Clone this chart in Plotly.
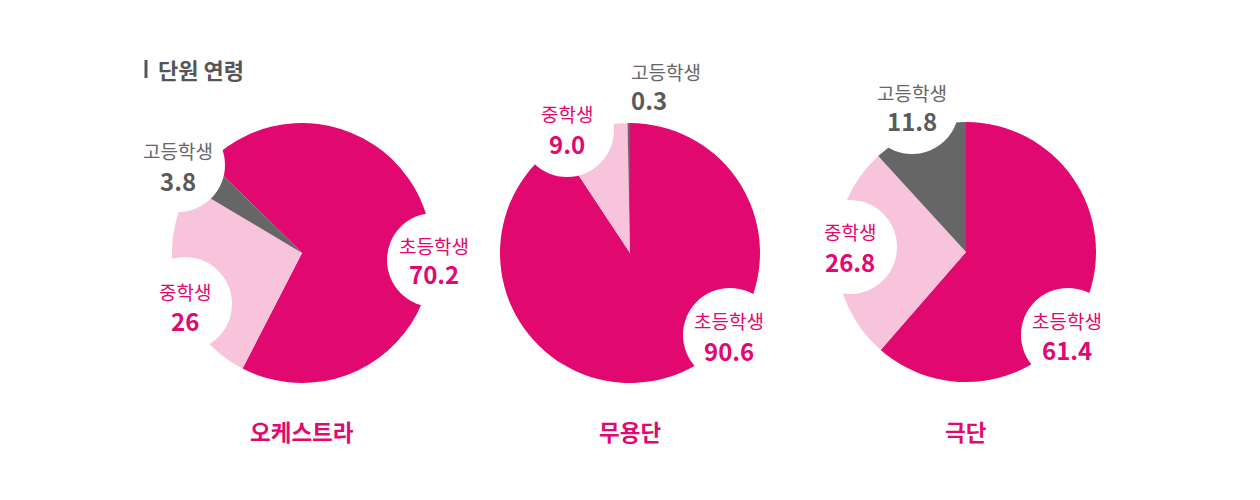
import plotly.graph_objects as go

# ---------------- data ----------------
categories = ["초등학생", "중학생", "고등학생"]
groups = ["오케스트라", "무용단", "극단"]
orchestra_values = [70.2, 26, 3.8]
dance_values = [90.6, 9.0, 0.3]
theater_values = [61.4, 26.8, 11.8]
value_labels = [["70.2", "26", "3.8"], ["90.6", "9.0", "0.3"], ["61.4", "26.8", "11.8"]]
chart_title = "단원 연령"

# ---------------- layout / style ----------------
W, H = 1260, 500
OX, OY = -8, -8   # page offset compensation
FONT = "Noto Sans CJK KR"
DARK = "#E1086F"
LIGHT = "#F7C4DC"
GRAY = "#666666"
slice_colors = [DARK, LIGHT, GRAY]
label_colors = [DARK, DARK, "#666666"]
value_colors = [DARK, DARK, "#5a5a5a"]

pie_centers = [(302, 253), (630, 253), (966, 252)]
pie_radius = 130
rotations = [-45.5, 0, 0]
# label positions (pixel): (x, y_label, y_value, circle_cx, circle_cy, xanchor)
label_pos = [
    [(434, 245, 272, 434, 260, "center"), (185, 291, 319, 185, 304, "center"), (178, 150, 179, 178, 165, "center")],
    [(729, 320, 349, 730, 335, "center"), (567, 114, 142, 567, 130, "center"), (629, 71, 99, None, None, "left")],
    [(1067, 320, 348, 1068, 335, "center"), (850, 232, 260, 850, 247, "center"), (912, 92, 120, 912, 107, "center")],
]
circle_r = 47

def px(x):
    return (x + OX) / W

def py(y):
    return 1 - (y + OY) / H

fig = go.Figure()
all_values = [orchestra_values, dance_values, theater_values]
for i, vals in enumerate(all_values):
    cx, cy = pie_centers[i]
    fig.add_trace(go.Pie(
        labels=categories,
        values=vals,
        sort=False,
        direction="clockwise",
        rotation=rotations[i],
        marker=dict(colors=slice_colors, line=dict(width=0)),
        textinfo="none",
        hoverinfo="label+value",
        showlegend=False,
        domain=dict(x=[px(cx - pie_radius), px(cx + pie_radius)],
                    y=[py(cy + pie_radius), py(cy - pie_radius)]),
    ))

shapes = []
annotations = []
for i in range(3):
    for j in range(3):
        x, yl, yv, ccx, ccy, xa = label_pos[i][j]
        if ccx is not None:
            shapes.append(dict(type="circle", xref="paper", yref="paper",
                               x0=px(ccx - circle_r), x1=px(ccx + circle_r),
                               y0=py(ccy + circle_r), y1=py(ccy - circle_r),
                               fillcolor="white", line=dict(width=0), layer="above"))
        annotations.append(dict(x=px(x), y=py(yl), xref="paper", yref="paper",
                                text=categories[j], showarrow=False, xanchor=xa, yanchor="middle",
                                font=dict(family=FONT, size=19, color=label_colors[j])))
        annotations.append(dict(x=px(x), y=py(yv + 1), xref="paper", yref="paper",
                                text="<b>" + value_labels[i][j] + "</b>", showarrow=False,
                                xanchor=xa, yanchor="middle",
                                font=dict(family=FONT, size=24, color=value_colors[j])))
    cx, cy = pie_centers[i]
    annotations.append(dict(x=px(cx), y=py(431), xref="paper", yref="paper",
                            text="<b>" + groups[i] + "</b>", showarrow=False,
                            xanchor="center", yanchor="middle",
                            font=dict(family=FONT, size=22.5, color=DARK)))

# title with bar
shapes.append(dict(type="line", xref="paper", yref="paper",
                   x0=px(146), x1=px(146), y0=py(78), y1=py(60),
                   line=dict(color="#555555", width=3)))
annotations.append(dict(x=px(156), y=py(69), xref="paper", yref="paper",
                        text="<b>" + chart_title + "</b>", showarrow=False,
                        xanchor="left", yanchor="middle",
                        font=dict(family=FONT, size=22, color="#555555")))

fig.update_layout(
    width=W, height=H, autosize=False,
    margin=dict(l=0, r=0, t=0, b=0),
    paper_bgcolor="white", plot_bgcolor="white",
    shapes=shapes, annotations=annotations,
    showlegend=False,
)

fig.write_html("out.html")
